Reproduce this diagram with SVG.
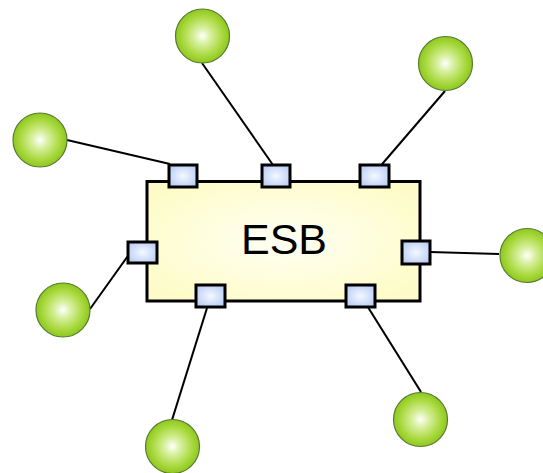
<svg xmlns="http://www.w3.org/2000/svg" width="543" height="473" viewBox="0 0 543 473">
<defs>
<radialGradient id="gBall" cx="0.5" cy="0.5" r="0.5">
<stop offset="0" stop-color="#ffffff"/>
<stop offset="0.3" stop-color="#d8f0a0"/>
<stop offset="0.75" stop-color="#a8d83c"/>
<stop offset="1" stop-color="#8cc820"/>
</radialGradient>
<radialGradient id="gPort" cx="0.5" cy="0.5" r="0.6">
<stop offset="0" stop-color="#f4f8ff"/>
<stop offset="1" stop-color="#b8ccf4"/>
</radialGradient>
<radialGradient id="gBus" cx="0.5" cy="0.5" r="0.6">
<stop offset="0" stop-color="#fffff4"/>
<stop offset="1" stop-color="#fdfcc8"/>
</radialGradient>
<style>
.ball{fill:url(#gBall);stroke:#5a7a30;stroke-width:1.2}
.port{fill:url(#gPort);stroke:#000;stroke-width:3}
.bus{fill:url(#gBus);stroke:#000;stroke-width:3}
.wire{stroke:#000;stroke-width:2;fill:none}
.lbl{font-family:"Liberation Sans",Arial,sans-serif;font-size:43px;fill:#000}
</style>
</defs>
<g id="connectors">
<line class="wire" x1="67" y1="140" x2="170" y2="164"/>
<line class="wire" x1="202" y1="63" x2="273" y2="165"/>
<line class="wire" x1="445" y1="91" x2="371" y2="177"/>
<line class="wire" x1="90" y1="309" x2="130" y2="253"/>
<line class="wire" x1="430" y1="252" x2="499" y2="254"/>
<line class="wire" x1="172" y1="420" x2="207" y2="308"/>
<line class="wire" x1="421" y1="392" x2="361" y2="296"/>
</g>
<g id="esb">
<rect class="bus" x="147" y="181.5" width="273" height="119.5"/>
<text class="lbl" x="284" y="254" text-anchor="middle">ESB</text>
</g>
<g id="port1"><rect class="port" x="169" y="165" width="28" height="22"/></g>
<g id="port2"><rect class="port" x="262" y="165" width="28" height="22"/></g>
<g id="port3"><rect class="port" x="360" y="165" width="29" height="22"/></g>
<g id="port4"><rect class="port" x="128" y="242" width="29" height="21"/></g>
<g id="port5"><rect class="port" x="402" y="241" width="28" height="23"/></g>
<g id="port6"><rect class="port" x="196" y="285" width="29" height="22"/></g>
<g id="port7"><rect class="port" x="346" y="285" width="29" height="22"/></g>
<g id="node1"><circle class="ball" cx="40" cy="140" r="27"/></g>
<g id="node2"><circle class="ball" cx="202.5" cy="36" r="27"/></g>
<g id="node3"><circle class="ball" cx="445.5" cy="63.5" r="27"/></g>
<g id="node4"><circle class="ball" cx="63" cy="310" r="27"/></g>
<g id="node5"><circle class="ball" cx="527" cy="255.5" r="27"/></g>
<g id="node6"><circle class="ball" cx="172.5" cy="446.5" r="27"/></g>
<g id="node7"><circle class="ball" cx="420.5" cy="419.5" r="27"/></g>
</svg>
